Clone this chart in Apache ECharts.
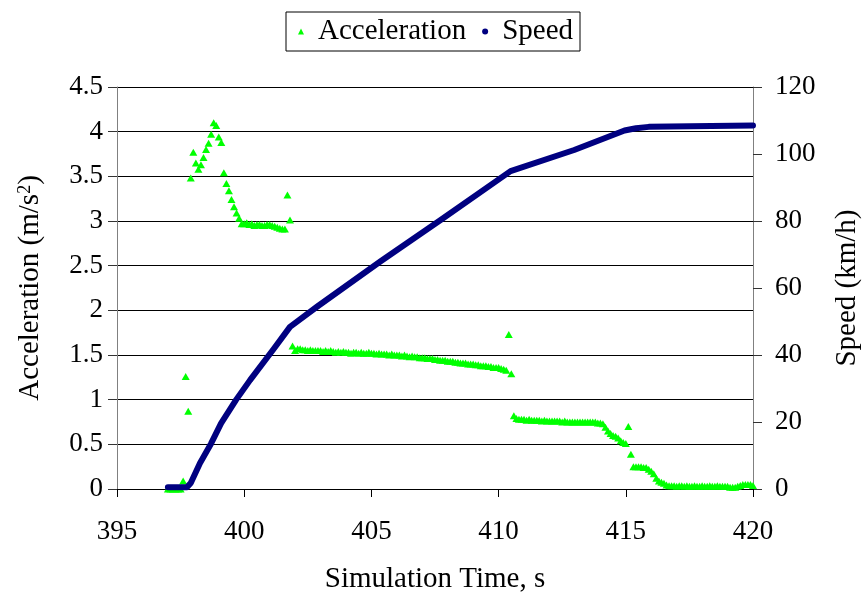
<!DOCTYPE html>
<html>
<head>
<meta charset="utf-8">
<script src="https://cdn.jsdelivr.net/npm/echarts@6/dist/echarts.min.js"></script>
<style>
  html, body { margin: 0; padding: 0; background: #fff; }
  #chart { width: 863px; height: 597px; }
</style>
</head>
<body>
<div id="chart"></div>
<script>
// acceleration samples, one every 0.1 s
const accTime = [
  397.0, 397.1, 397.2, 397.3, 397.4, 397.5, 397.6, 397.7, 397.8, 397.9,
  398.0, 398.1, 398.2, 398.3, 398.4, 398.5, 398.6, 398.7, 398.8, 398.9,
  399.0, 399.1, 399.2, 399.3, 399.4, 399.5, 399.6, 399.7, 399.8, 399.9,
  400.0, 400.1, 400.2, 400.3, 400.4, 400.5, 400.6, 400.7, 400.8, 400.9,
  401.0, 401.1, 401.2, 401.3, 401.4, 401.5, 401.6, 401.7, 401.8, 401.9,
  402.0, 402.1, 402.2, 402.3, 402.4, 402.5, 402.6, 402.7, 402.8, 402.9,
  403.0, 403.1, 403.2, 403.3, 403.4, 403.5, 403.6, 403.7, 403.8, 403.9,
  404.0, 404.1, 404.2, 404.3, 404.4, 404.5, 404.6, 404.7, 404.8, 404.9,
  405.0, 405.1, 405.2, 405.3, 405.4, 405.5, 405.6, 405.7, 405.8, 405.9,
  406.0, 406.1, 406.2, 406.3, 406.4, 406.5, 406.6, 406.7, 406.8, 406.9,
  407.0, 407.1, 407.2, 407.3, 407.4, 407.5, 407.6, 407.7, 407.8, 407.9,
  408.0, 408.1, 408.2, 408.3, 408.4, 408.5, 408.6, 408.7, 408.8, 408.9,
  409.0, 409.1, 409.2, 409.3, 409.4, 409.5, 409.6, 409.7, 409.8, 409.9,
  410.0, 410.1, 410.2, 410.3, 410.4, 410.5, 410.6, 410.7, 410.8, 410.9,
  411.0, 411.1, 411.2, 411.3, 411.4, 411.5, 411.6, 411.7, 411.8, 411.9,
  412.0, 412.1, 412.2, 412.3, 412.4, 412.5, 412.6, 412.7, 412.8, 412.9,
  413.0, 413.1, 413.2, 413.3, 413.4, 413.5, 413.6, 413.7, 413.8, 413.9,
  414.0, 414.1, 414.2, 414.3, 414.4, 414.5, 414.6, 414.7, 414.8, 414.9,
  415.0, 415.1, 415.2, 415.3, 415.4, 415.5, 415.6, 415.7, 415.8, 415.9,
  416.0, 416.1, 416.2, 416.3, 416.4, 416.5, 416.6, 416.7, 416.8, 416.9,
  417.0, 417.1, 417.2, 417.3, 417.4, 417.5, 417.6, 417.7, 417.8, 417.9,
  418.0, 418.1, 418.2, 418.3, 418.4, 418.5, 418.6, 418.7, 418.8, 418.9,
  419.0, 419.1, 419.2, 419.3, 419.4, 419.5, 419.6, 419.7, 419.8, 419.9,
  420.0
];
const accValue = [
  0, 0, 0, 0, 0, 0, 0.09, 1.26, 0.87, 3.48,
  3.77, 3.65, 3.58, 3.63, 3.71, 3.80, 3.87, 3.97, 4.10, 4.07,
  3.94, 3.88, 3.54, 3.42, 3.34, 3.24, 3.16, 3.09, 3.03, 2.97,
  2.97, 2.98, 2.96, 2.97, 2.95, 2.96, 2.96, 2.95, 2.95, 2.96,
  2.96, 2.95, 2.94, 2.93, 2.92, 2.91, 2.91, 3.29, 3.01, 1.60,
  1.55, 1.57, 1.57, 1.56, 1.56, 1.55, 1.56, 1.55, 1.55, 1.55,
  1.55, 1.54, 1.55, 1.54, 1.55, 1.54, 1.53, 1.54, 1.53, 1.54,
  1.53, 1.53, 1.52, 1.53, 1.53, 1.52, 1.53, 1.52, 1.52, 1.53,
  1.52, 1.52, 1.51, 1.52, 1.51, 1.51, 1.51, 1.50, 1.51, 1.50,
  1.50, 1.50, 1.49, 1.50, 1.49, 1.48, 1.49, 1.48, 1.48, 1.47,
  1.47, 1.47, 1.46, 1.46, 1.46, 1.45, 1.45, 1.44, 1.44, 1.44,
  1.43, 1.43, 1.43, 1.42, 1.42, 1.41, 1.41, 1.41, 1.40, 1.40,
  1.40, 1.39, 1.39, 1.38, 1.38, 1.38, 1.37, 1.37, 1.36, 1.36,
  1.36, 1.35, 1.34, 1.33, 1.73, 1.29, 0.82, 0.79, 0.78, 0.78,
  0.78, 0.77, 0.78, 0.77, 0.77, 0.77, 0.77, 0.76, 0.77, 0.76,
  0.76, 0.76, 0.76, 0.76, 0.76, 0.75, 0.76, 0.75, 0.75, 0.75,
  0.75, 0.75, 0.75, 0.75, 0.75, 0.75, 0.75, 0.75, 0.75, 0.74,
  0.74, 0.73, 0.69, 0.65, 0.62, 0.60, 0.59, 0.57, 0.54, 0.52,
  0.51, 0.70, 0.39, 0.25, 0.25, 0.25, 0.25, 0.24, 0.24, 0.22,
  0.20, 0.17, 0.12, 0.09, 0.075, 0.063, 0.045, 0.037, 0.035, 0.035,
  0.03, 0.035, 0.035, 0.03, 0.035, 0.03, 0.03, 0.035, 0.03, 0.03,
  0.035, 0.03, 0.03, 0.035, 0.03, 0.03, 0.035, 0.03, 0.03, 0.03,
  0.03, 0.02, 0.02, 0.02, 0.03, 0.04, 0.05, 0.05, 0.05, 0.05,
  0.04
];

// speed, read at the bends of the curve
const speedTime = [397.0, 397.75, 397.9, 398.26, 398.7, 399.09, 399.68, 400.23, 401.15, 401.8,
  402.86, 405.35, 407.72, 410.47, 412.97, 414.95, 415.4, 415.9, 420.0];
const speedValue = [0.5, 0.5, 1.8, 7.7, 13.6, 19.6, 26.6, 32.5, 41.7, 48.4,
  54.4, 67.9, 80.3, 94.9, 101.2, 107.0, 107.7, 108.1, 108.5];

const FONT = "'Liberation Serif', 'Times New Roman', serif";

let accData = accTime.map((t, i) => [t, accValue[i]]);
let speedData = speedTime.map((t, i) => [t, speedValue[i]]);

let myChart = echarts.init(document.getElementById("chart"));
myChart.setOption({
  animation: false,
  backgroundColor: "#fff",
  grid: {
    left: 117,
    right: 110,
    top: 87,
    bottom: 108,
    outerBoundsMode: "none",
  },
  legend: {
    top: 12,
    left: 286,
    padding: [5, 7, 5, 12],
    borderColor: "#000",
    borderWidth: 1,
    itemGap: 16,
    itemWidth: 6,
    itemHeight: 6,
    data: [
      { name: "Acceleration", icon: "triangle" },
      { name: "Speed", icon: "circle" },
    ],
    textStyle: {
      fontFamily: FONT,
      fontSize: 29,
      color: "#000",
      padding: [0, 0, 0, 9],
    },
  },
  xAxis: {
    type: "value",
    min: 395,
    max: 420,
    interval: 5,
    name: "Simulation Time, s",
    nameLocation: "middle",
    nameGap: 76,
    nameTextStyle: { fontFamily: FONT, fontSize: 29, color: "#000" },
    axisLine: { lineStyle: { color: "#000", width: 1 } },
    axisTick: { length: 8, lineStyle: { color: "#000" } },
    axisLabel: { fontFamily: FONT, fontSize: 27, color: "#000", margin: 29 },
    splitLine: { show: false },
  },
  yAxis: [
    {
      type: "value",
      min: 0,
      max: 4.5,
      interval: 0.5,
      name: "Acceleration (m/s{sup|2})",
      nameLocation: "middle",
      nameGap: 72,
      nameTextStyle: {
        fontFamily: FONT,
        fontSize: 29,
        color: "#000",
        rich: {
          sup: { fontFamily: FONT, fontSize: 18, color: "#000", verticalAlign: "top" },
        },
      },
      axisLine: { show: true, lineStyle: { color: "#808080", width: 1 } },
      axisTick: { show: true, length: 9, lineStyle: { color: "#333" } },
      axisLabel: { fontFamily: FONT, fontSize: 27, color: "#000", margin: 14 },
      splitLine: { show: true, lineStyle: { color: "#000", width: 1 } },
    },
    {
      type: "value",
      min: 0,
      max: 120,
      interval: 20,
      name: "Speed (km/h)",
      nameLocation: "middle",
      nameGap: 80,
      nameTextStyle: { fontFamily: FONT, fontSize: 29, color: "#000" },
      axisLine: { show: true, lineStyle: { color: "#808080", width: 1 } },
      axisTick: { show: true, length: 9, lineStyle: { color: "#333" } },
      axisLabel: { fontFamily: FONT, fontSize: 27, color: "#000", margin: 22 },
      splitLine: { show: false },
    },
  ],
  series: [
    {
      name: "Acceleration",
      type: "scatter",
      yAxisIndex: 0,
      symbol: "triangle",
      symbolSize: [8, 7],
      itemStyle: { color: "#00ff00", opacity: 1 },
      data: accData,
    },
    {
      name: "Speed",
      type: "line",
      yAxisIndex: 1,
      showSymbol: false,
      symbol: "circle",
      itemStyle: { color: "#000080" },
      lineStyle: { color: "#000080", width: 6, cap: "round", join: "round" },
      data: speedData,
    },
  ],
});
</script>
</body>
</html>
